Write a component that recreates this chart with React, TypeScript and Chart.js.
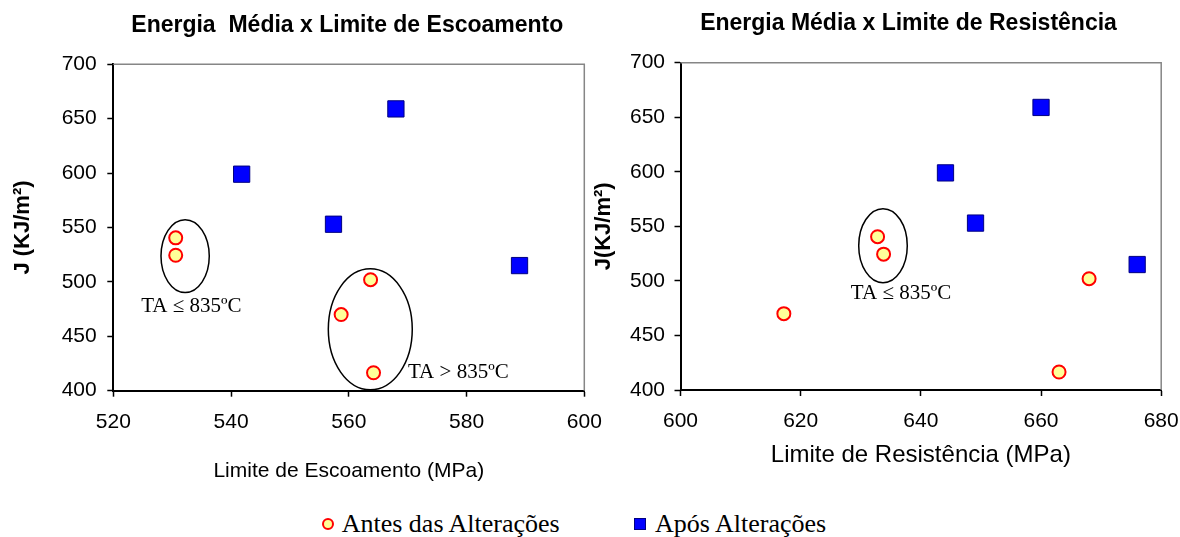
import React, { useEffect, useRef } from "react";
import { Chart, registerables } from "chart.js";

Chart.register(...registerables);

// ---------- data ----------
const antesJ = [540.5, 524.5, 502, 470, 416.5];
const antesEscoamento = [530.6, 530.6, 563.7, 558.7, 564.2];
const antesResistencia = [632.8, 633.8, 668.0, 617.2, 663.0];

const aposJ = [599, 659, 553, 515];
const aposEscoamento = [541.8, 568.0, 557.4, 589.0];
const aposResistencia = [644.1, 660.0, 649.1, 676.0];

const jTicks = [400, 450, 500, 550, 600, 650, 700];
const escoamentoTicks = [520, 540, 560, 580, 600];
const resistenciaTicks = [600, 620, 640, 660, 680];

const seriesNames = ["Antes das Alterações", "Após Alterações"];
const chartTitles = ["Energia  Média x Limite de Escoamento", "Energia Média x Limite de Resistência"];
const xTitles = ["Limite de Escoamento (MPa)", "Limite de Resistência (MPa)"];
const yTitles = ["J (KJ/m²)", "J(KJ/m²)"];

// annotation groups (data units)
const escoamentoGroups = [
  { cx: 532.2, cy: 523.7, rx: 4.1, ry: 33.5, text: "TA ≤ 835ºC", tx: 533.25, ty: 477.8 },
  { cx: 563.65, cy: 456.4, rx: 7.13, ry: 55.6, text: "TA > 835ºC", tx: 578.6, ty: 416.3 },
];
const resistenciaGroups = [
  { cx: 633.7, cy: 532.3, rx: 4.04, ry: 33.9, text: "TA ≤ 835ºC", tx: 636.7, ty: 488.7 },
];

const SANS = "'Liberation Sans', Arial, sans-serif";
const SERIF = "'Liberation Serif', 'Times New Roman', serif";

const decorPlugin = {
  id: "decor",
  afterLayout(chart: any, _args: any, opts: any) {
    const t = chart.titleBlock;
    if (t && opts.titleShift) {
      t.left += opts.titleShift;
      t.right += opts.titleShift;
    }
  },
  beforeDatasetsDraw(chart: any, _args: any, opts: any) {
    const { ctx, chartArea: a, scales } = chart;
    const x = scales.x;
    const y = scales.y;
    ctx.save();
    ctx.strokeStyle = "#868686";
    ctx.lineWidth = 1.5;
    ctx.beginPath();
    ctx.moveTo(a.left, a.top);
    ctx.lineTo(a.right, a.top);
    ctx.lineTo(a.right, a.bottom);
    ctx.stroke();

    ctx.strokeStyle = "#000";
    ctx.lineWidth = 1.5;
    for (const g of opts.groups || []) {
      const cx = x.getPixelForValue(g.cx);
      const cy = y.getPixelForValue(g.cy);
      const rx = Math.abs(x.getPixelForValue(g.cx + g.rx) - cx);
      const ry = Math.abs(y.getPixelForValue(g.cy + g.ry) - cy);
      ctx.beginPath();
      ctx.ellipse(cx, cy, rx, ry, 0, 0, Math.PI * 2);
      ctx.stroke();
    }
    ctx.fillStyle = "#000";
    ctx.font = `21px ${SERIF}`;
    ctx.textAlign = "center";
    ctx.textBaseline = "middle";
    for (const g of opts.groups || []) {
      ctx.fillText(g.text, x.getPixelForValue(g.tx), y.getPixelForValue(g.ty));
    }
    ctx.restore();
  },
};

type Geo = {
  padRight: number;
  titleTop: number;
  titleBottom: number;
  titleShift: number;
  yWidth: number;
  yTitlePad: number;
  yTickPad: number;
  xHeight: number;
  xTickPad: number;
  xTitleSize: number;
  xTitlePad: number;
};

function makeConfig(
  idx: number,
  antesX: number[],
  aposX: number[],
  xTicks: number[],
  groups: any[],
  geo: Geo
): any {
  return {
    type: "scatter",
    data: {
      datasets: [
        {
          label: seriesNames[0],
          data: antesX.map((v, i) => ({ x: v, y: antesJ[i] })),
          pointStyle: "circle",
          pointRadius: 6.5,
          pointHoverRadius: 6.5,
          pointBackgroundColor: "#FFFF99",
          pointBorderColor: "#FF0000",
          pointBorderWidth: 2,
          showLine: false,
        },
        {
          label: seriesNames[1],
          data: aposX.map((v, i) => ({ x: v, y: aposJ[i] })),
          pointStyle: "rect",
          pointRadius: 11.5,
          pointHoverRadius: 11.5,
          pointBackgroundColor: "#0000FF",
          pointBorderColor: "#000080",
          pointBorderWidth: 1,
          showLine: false,
        },
      ],
    },
    plugins: [decorPlugin],
    options: {
      responsive: false,
      animation: false,
      events: [],
      layout: {
        autoPadding: false,
        padding: { left: 0, right: geo.padRight, top: 0, bottom: 0 },
      },
      plugins: {
        legend: { display: false },
        tooltip: { enabled: false },
        title: {
          display: true,
          fullSize: false,
          text: chartTitles[idx],
          color: "#000",
          font: { family: SANS, size: 23, weight: "bold" },
          padding: { top: geo.titleTop, bottom: geo.titleBottom },
        },
        decor: { groups, titleShift: geo.titleShift },
      },
      scales: {
        x: {
          type: "linear",
          position: "bottom",
          min: xTicks[0],
          max: xTicks[xTicks.length - 1],
          afterBuildTicks: (s: any) => {
            s.ticks = xTicks.map((v) => ({ value: v }));
          },
          afterFit: (s: any) => {
            s.height = geo.xHeight;
            s.paddingLeft = 0;
            s.paddingRight = 0;
          },
          grid: {
            display: true,
            drawOnChartArea: false,
            drawTicks: true,
            tickLength: 6,
            tickColor: "#000",
            tickWidth: 1.5,
          },
          border: { display: true, color: "#000", width: 2 },
          ticks: {
            color: "#000",
            padding: geo.xTickPad,
            maxRotation: 0,
            font: { family: SANS, size: 21 },
          },
          title: {
            display: true,
            text: xTitles[idx],
            color: "#000",
            font: { family: SANS, size: geo.xTitleSize },
            padding: { top: 0, bottom: geo.xTitlePad },
          },
        },
        y: {
          type: "linear",
          position: "left",
          min: jTicks[0],
          max: jTicks[jTicks.length - 1],
          afterBuildTicks: (s: any) => {
            s.ticks = jTicks.map((v) => ({ value: v }));
          },
          afterFit: (s: any) => {
            s.width = geo.yWidth;
            s.paddingTop = 0;
            s.paddingBottom = 0;
          },
          grid: {
            display: true,
            drawOnChartArea: false,
            drawTicks: true,
            tickLength: 6,
            tickColor: "#000",
            tickWidth: 1.5,
          },
          border: { display: true, color: "#000", width: 2 },
          ticks: {
            color: "#000",
            padding: geo.yTickPad,
            font: { family: SANS, size: 21 },
          },
          title: {
            display: true,
            text: yTitles[idx],
            color: "#000",
            font: { family: SANS, size: 22, weight: "bold" },
            padding: { top: geo.yTitlePad, bottom: 0 },
          },
        },
      },
    },
  };
}

function ChartCanvas({ config, left, width, height }: any) {
  const ref = useRef<HTMLCanvasElement | null>(null);
  useEffect(() => {
    if (!ref.current) return;
    const chart = new Chart(ref.current, config);
    return () => chart.destroy();
  }, []);
  return (
    <canvas
      ref={ref}
      width={width}
      height={height}
      style={{ position: "absolute", left, top: 0, width, height, display: "block" }}
    />
  );
}

export default function App() {
  const leftCfg = makeConfig(0, antesEscoamento, aposEscoamento, escoamentoTicks, escoamentoGroups, {
    padRight: 55.7,
    titleTop: 12,
    titleBottom: 24.7,
    titleShift: -1.5,
    yWidth: 113.3,
    yTitlePad: 10.1,
    yTickPad: 10.6,
    xHeight: 99.3,
    xTickPad: 12.7,
    xTitleSize: 21,
    xTitlePad: 6.4,
  });
  const rightCfg = makeConfig(1, antesResistencia, aposResistencia, resistenciaTicks, resistenciaGroups, {
    padRight: 18.8,
    titleTop: 10.2,
    titleBottom: 24.9,
    titleShift: -12.35,
    yWidth: 90.5,
    yTitlePad: 0.8,
    yTickPad: 9.5,
    xHeight: 100,
    xTickPad: 12.4,
    xTitleSize: 24,
    xTitlePad: 20.6,
  });

  const legendText: React.CSSProperties = {
    position: "absolute",
    top: 511,
    fontFamily: SERIF,
    fontSize: 26,
    lineHeight: "26px",
    color: "#000",
    whiteSpace: "nowrap",
  };

  return (
    <div
      style={{
        position: "fixed",
        left: 0,
        top: 0,
        width: 1180,
        height: 537,
        background: "#fff",
        overflow: "hidden",
      }}
    >
      <ChartCanvas config={leftCfg} left={0} width={640} height={490} />
      <ChartCanvas config={rightCfg} left={590} width={590} height={490} />
      <div
        style={{
          position: "absolute",
          left: 321.5,
          top: 518,
          width: 12,
          height: 12,
          borderRadius: "50%",
          border: "2px solid #FF0000",
          background: "#FFFF99",
          boxSizing: "border-box",
        }}
      />
      <div style={{ ...legendText, left: 341.7 }}>{seriesNames[0]}</div>
      <div
        style={{
          position: "absolute",
          left: 634,
          top: 518,
          width: 12,
          height: 12,
          background: "#0000FF",
          border: "1px solid #000080",
          boxSizing: "border-box",
        }}
      />
      <div style={{ ...legendText, left: 655 }}>{seriesNames[1]}</div>
    </div>
  );
}
